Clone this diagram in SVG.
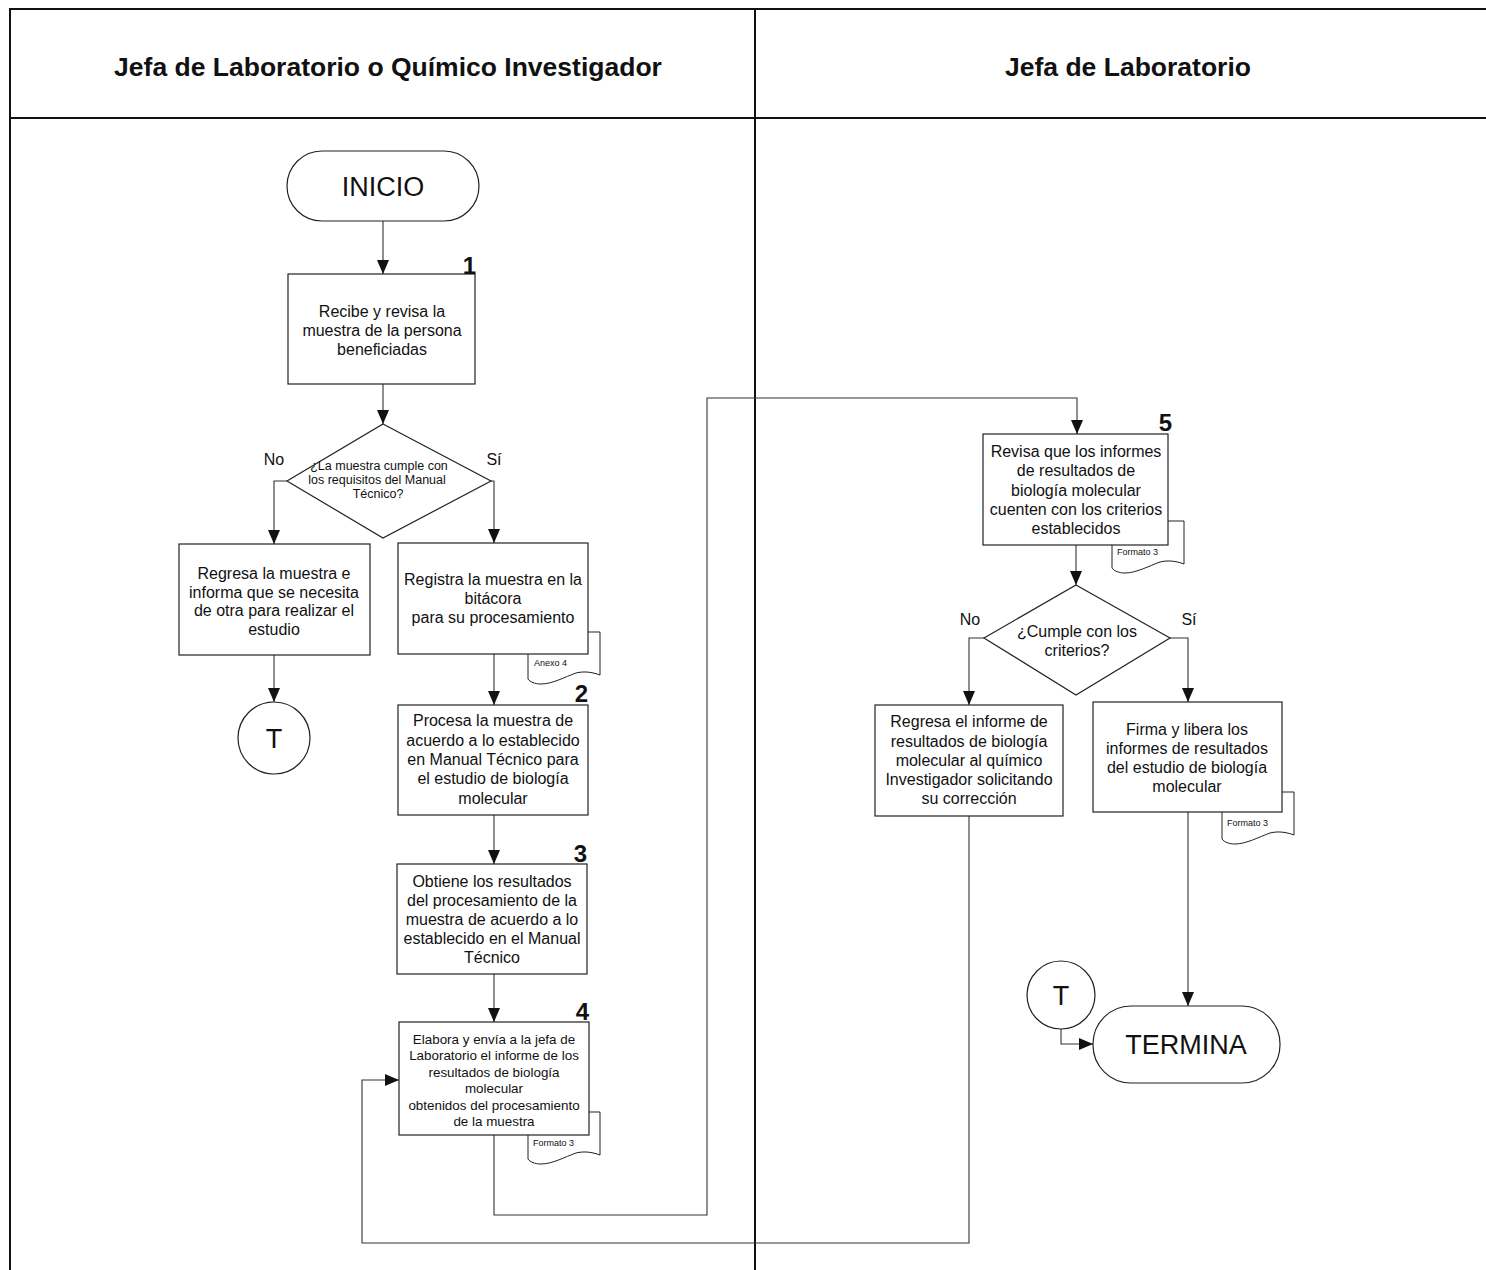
<svg xmlns="http://www.w3.org/2000/svg" width="1486" height="1270" viewBox="0 0 1486 1270">
<style>
.lane{stroke:#111;stroke-width:2;fill:none}
.box{fill:#fff;stroke:#222;stroke-width:1.2}
.doc{fill:#fff;stroke:#222;stroke-width:1}
.con{fill:none;stroke:#333;stroke-width:1.1}
text{font-family:"Liberation Sans",Arial,sans-serif;fill:#111}
.hd{font-size:26.5px;font-weight:bold;text-anchor:middle}
.t{font-size:16px;text-anchor:middle}
.ts{font-size:13.4px;text-anchor:middle}
.td{font-size:12.5px;text-anchor:middle}
.num{font-size:24px;font-weight:bold;text-anchor:end}
.big{font-size:27px;text-anchor:middle}
.lbl{font-size:9px}
</style>
<defs>
<marker id="ah" markerUnits="userSpaceOnUse" markerWidth="14" markerHeight="12" refX="14" refY="6" orient="auto">
<path d="M0,0 L14,6 L0,12 z" fill="#111"/>
</marker>
</defs>
<rect width="1486" height="1270" fill="#fff"/>
<g id="lanes">
<path class="lane" d="M10,1270 V9 H1486 M10,118 H1486 M755,9 V1270"/>
<text class="hd" x="388" y="76">Jefa de Laboratorio o Químico Investigador</text>
<text class="hd" x="1128" y="76">Jefa de Laboratorio</text>
</g>
<g id="connectors">
<path class="con" marker-end="url(#ah)" d="M383,221 V274"/>
<path class="con" marker-end="url(#ah)" d="M383,384 V424"/>
<path class="con" marker-end="url(#ah)" d="M287,481 H274 V544"/>
<path class="con" marker-end="url(#ah)" d="M491,481 H494 V543"/>
<path class="con" marker-end="url(#ah)" d="M274,655 V702"/>
<path class="con" marker-end="url(#ah)" d="M494,654 V705"/>
<path class="con" marker-end="url(#ah)" d="M494,815 V864"/>
<path class="con" marker-end="url(#ah)" d="M494,974 V1022"/>
<path class="con" marker-end="url(#ah)" d="M494,1135 V1215 H707 V398 H1077 V434"/>
<path class="con" marker-end="url(#ah)" d="M1076,545 V585"/>
<path class="con" marker-end="url(#ah)" d="M984,638 H969 V705"/>
<path class="con" marker-end="url(#ah)" d="M1170,638 H1188 V702"/>
<path class="con" marker-end="url(#ah)" d="M969,816 V1243 H362 V1080 H399"/>
<path class="con" marker-end="url(#ah)" d="M1188,812 V1006"/>
<path class="con" marker-end="url(#ah)" d="M1061,1029 V1044 H1093"/>
</g>
<g id="inicio">
<rect class="box" x="287" y="151" width="192" height="70" rx="35" ry="35"/>
<text class="big" x="383" y="196">INICIO</text>
</g>
<g id="n1">
<rect class="box" x="288" y="274" width="187" height="110"/>
<text class="num" x="476" y="274">1</text>
<text class="t" x="382" y="317">Recibe y revisa la</text>
<text class="t" x="382" y="336">muestra de la persona</text>
<text class="t" x="382" y="355">beneficiadas</text>
</g>
<g id="d1">
<polygon class="box" points="383,424 491,481 383,538 287,481"/>
<text class="td" x="379" y="470">¿La muestra cumple con</text>
<text class="td" x="377" y="484">los requisitos del Manual</text>
<text class="td" x="378" y="498">Técnico?</text>
<text class="t" x="274" y="465">No</text>
<text class="t" x="494" y="465">Sí</text>
</g>
<g id="nRegresaMuestra">
<rect class="box" x="179" y="544" width="191" height="111"/>
<text class="t" x="274" y="579">Regresa la muestra e</text>
<text class="t" x="274" y="598">informa que se necesita</text>
<text class="t" x="274" y="616">de otra para realizar el</text>
<text class="t" x="274" y="635">estudio</text>
</g>
<g id="tLeft">
<circle class="box" cx="274" cy="738" r="36"/>
<text class="big" x="274" y="748">T</text>
</g>
<g id="nRegistra">
<path class="doc" d="M588,632 H600 V675 C592,672 584,671 576,673 C565,677 552,684 541,684 C535,684 530,682 528,679 V654"/>
<text class="lbl" x="534" y="666">Anexo 4</text>
<rect class="box" x="398" y="543" width="190" height="111"/>
<text class="t" x="493" y="585">Registra la muestra en la</text>
<text class="t" x="493" y="604">bitácora</text>
<text class="t" x="493" y="623">para su procesamiento</text>
</g>
<g id="n2">
<rect class="box" x="398" y="705" width="190" height="110"/>
<text class="num" x="588" y="702">2</text>
<text class="t" x="493" y="726">Procesa la muestra de</text>
<text class="t" x="493" y="746">acuerdo a lo establecido</text>
<text class="t" x="493" y="765">en Manual  Técnico para</text>
<text class="t" x="493" y="784">el estudio de biología</text>
<text class="t" x="493" y="804">molecular</text>
</g>
<g id="n3">
<rect class="box" x="397" y="864" width="190" height="110"/>
<text class="num" x="587" y="862">3</text>
<text class="t" x="492" y="887">Obtiene los resultados</text>
<text class="t" x="492" y="906">del procesamiento de la</text>
<text class="t" x="492" y="925">muestra de acuerdo a lo</text>
<text class="t" x="492" y="944">establecido en el Manual</text>
<text class="t" x="492" y="963">Técnico</text>
</g>
<g id="n4">
<path class="doc" d="M589,1112 H600 V1155 C592,1152 584,1151 576,1153 C565,1157 552,1164 541,1164 C535,1164 530,1162 528,1159 V1135"/>
<text class="lbl" x="533" y="1146">Formato 3</text>
<rect class="box" x="399" y="1022" width="190" height="113"/>
<text class="num" x="589" y="1020">4</text>
<text class="ts" x="494" y="1044">Elabora y envía a la jefa de</text>
<text class="ts" x="494" y="1060">Laboratorio el informe de los</text>
<text class="ts" x="494" y="1077">resultados de biología</text>
<text class="ts" x="494" y="1093">molecular</text>
<text class="ts" x="494" y="1110">obtenidos del procesamiento</text>
<text class="ts" x="494" y="1126">de la muestra</text>
</g>
<g id="n5">
<path class="doc" d="M1168,521 H1184 V564 C1176,561 1168,560 1160,562 C1149,566 1136,573 1125,573 C1119,573 1114,571 1112,568 V545"/>
<text class="lbl" x="1117" y="555">Formato 3</text>
<rect class="box" x="983" y="434" width="185" height="111"/>
<text class="num" x="1172" y="431">5</text>
<text class="t" x="1076" y="457">Revisa que los informes</text>
<text class="t" x="1076" y="476">de resultados de</text>
<text class="t" x="1076" y="496">biología molecular</text>
<text class="t" x="1076" y="515">cuenten con los criterios</text>
<text class="t" x="1076" y="534">establecidos</text>
</g>
<g id="d2">
<polygon class="box" points="1076,585 1170,638 1076,695 984,638"/>
<text class="t" x="1077" y="637">¿Cumple con los</text>
<text class="t" x="1077" y="656">criterios?</text>
<text class="t" x="970" y="625">No</text>
<text class="t" x="1189" y="625">Sí</text>
</g>
<g id="nRegresaInforme">
<rect class="box" x="875" y="705" width="188" height="111"/>
<text class="t" x="969" y="727">Regresa el informe de</text>
<text class="t" x="969" y="747">resultados de biología</text>
<text class="t" x="969" y="766">molecular al químico</text>
<text class="t" x="969" y="785">Investigador solicitando</text>
<text class="t" x="969" y="804">su corrección</text>
</g>
<g id="nFirma">
<path class="doc" d="M1282,792 H1294 V835 C1286,832 1278,831 1270,833 C1259,837 1246,844 1235,844 C1229,844 1224,842 1222,839 V812"/>
<text class="lbl" x="1227" y="826">Formato 3</text>
<rect class="box" x="1093" y="702" width="189" height="110"/>
<text class="t" x="1187" y="735">Firma y libera los</text>
<text class="t" x="1187" y="754">informes de resultados</text>
<text class="t" x="1187" y="773">del estudio de biología</text>
<text class="t" x="1187" y="792">molecular</text>
</g>
<g id="tRight">
<circle class="box" cx="1061" cy="995" r="34"/>
<text class="big" x="1061" y="1005">T</text>
</g>
<g id="termina">
<rect class="box" x="1093" y="1006" width="187" height="77" rx="38" ry="38"/>
<text class="big" x="1186" y="1054">TERMINA</text>
</g>
</svg>
